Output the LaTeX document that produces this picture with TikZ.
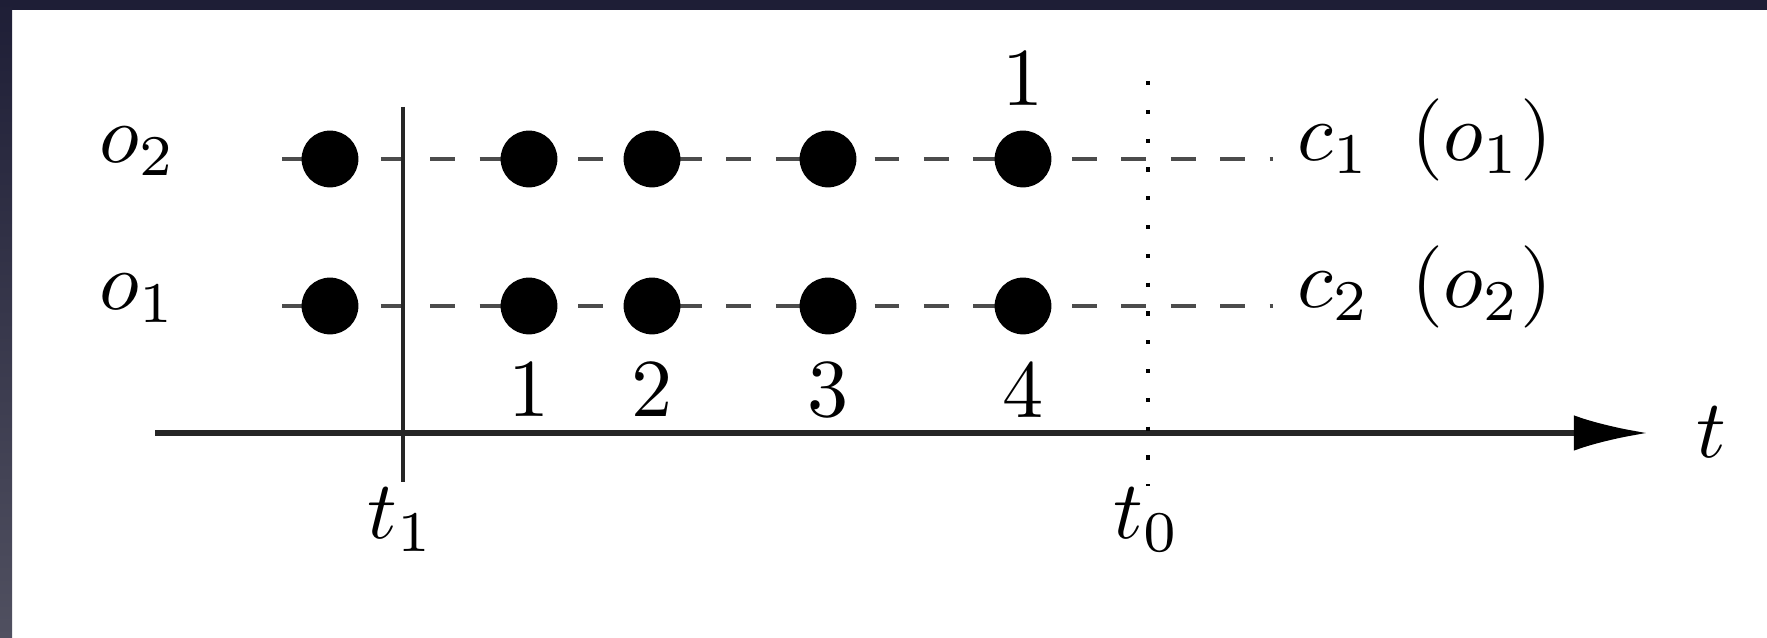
\documentclass[tikz,border=0pt]{standalone}
\usepackage{amsmath}
\usetikzlibrary{arrows.meta,positioning}
\definecolor{frameblue}{RGB}{30,30,54}
\definecolor{framegray}{RGB}{80,80,96}

\begin{document}
\begin{tikzpicture}[x=0.1215pt,y=-0.1215pt,
    ev/.style={circle,fill=black,inner sep=0pt,minimum size=6.9pt},
    trace/.style={dashed,line width=0.6pt,black!70},
    num/.style={inner sep=0pt}]
      % frame
      \useasboundingbox (0,0) rectangle (1767,638);
      \fill[white] (0,0) rectangle (1767,638);
      \fill[frameblue] (0,0) rectangle (1767,10);
      \shade[top color=frameblue,bottom color=framegray] (0,0) rectangle (12,638);
      % time axis
      \coordinate (axL) at (155,433);
      \coordinate (axR) at (1648,433);
      \draw[line width=0.7pt,black!85,-{Latex[length=9pt,width=4.3pt,black]}] (axL) -- (axR);
      \node[anchor=base,inner sep=0pt] (t) at (1711,458) {$t$};
      % object traces
      \coordinate (upL) at (282,159);
      \coordinate (upR) at (1273,159);
      \coordinate (loL) at (282,306);
      \coordinate (loR) at (1273,306);
      \draw[trace] (upL) -- (upR);
      \draw[trace] (loL) -- (loR);
      % t1 and t0
      \coordinate (t1top) at (403,107);
      \coordinate (t1bot) at (403,482);
      \draw[line width=0.6pt,black!85] (t1top) -- (t1bot);
      \node[anchor=base,inner sep=0pt] (t1) at (401,539) {$t_1$};
      \coordinate (t0top) at (1148,81);
      \coordinate (t0bot) at (1148,486);
      \draw[line width=0.5pt,dash pattern=on 0.5pt off 3pt] (t0top) -- (t0bot);
      \node[anchor=base,inner sep=0pt] (t0) at (1147,539) {$t_0$};
      % detections
      \foreach \i/\x in {1/330,2/529,3/652,4/828,5/1023} {
        \node[ev] (a\i) at (\x,159) {};
        \node[ev] (b\i) at (\x,306) {};
      }
      \foreach \i/\n in {2/1,3/2,4/3,5/4}
        \node[num,below=2.9pt of b\i] {\n};
      \node[num,above=2.6pt of a5] {1};
      % row labels
      \node[anchor=base west,inner sep=0pt] (o2) at (98,163) {$o_2$};
      \node[anchor=base west,inner sep=0pt] (o1) at (98,310) {$o_1$};
      \node[anchor=base west,inner sep=0pt] (c1) at (1296,161) {$c_1\enspace(o_1)$};
      \node[anchor=base west,inner sep=0pt] (c2) at (1296,308) {$c_2\enspace(o_2)$};
    \end{tikzpicture}
\end{document}
